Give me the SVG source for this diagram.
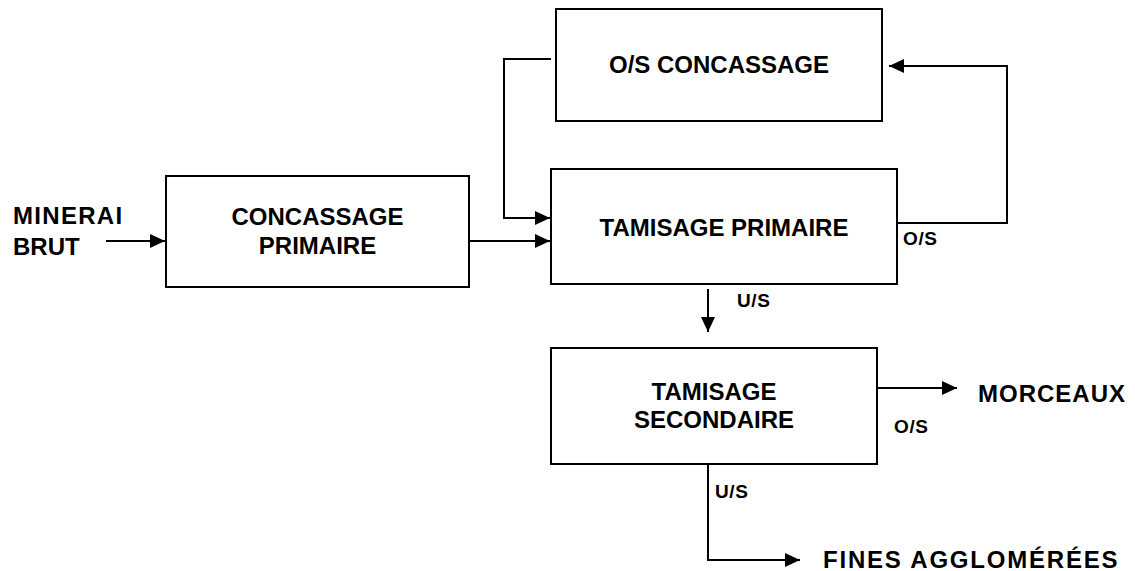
<svg xmlns="http://www.w3.org/2000/svg" width="1135" height="571" viewBox="0 0 1135 571">
<style>
.box{fill:#fff;stroke:#000;stroke-width:2}
.ln{fill:none;stroke:#000;stroke-width:2}
.t{font-family:"Liberation Sans",Arial,sans-serif;font-weight:bold;font-size:24px;fill:#000}
.c{text-anchor:middle}
.s{font-size:19px;letter-spacing:0.6px}
</style>
<defs>
<marker id="ah" markerUnits="userSpaceOnUse" markerWidth="15" markerHeight="14" refX="15" refY="7" orient="auto">
<path d="M0,0 L15,7 L0,14 z" fill="#000"/>
</marker>
</defs>
<rect width="1135" height="571" fill="#fff"/>
<g id="connectors">
<path class="ln" d="M106,241 L165,241" marker-end="url(#ah)"/>
<path class="ln" d="M469,241 L550,241" marker-end="url(#ah)"/>
<path class="ln" d="M551,59 L504,59 L504,218 L550,218" marker-end="url(#ah)"/>
<path class="ln" d="M897,223 L1007,223 L1007,66 L889,66" marker-end="url(#ah)"/>
<path class="ln" d="M708,289 L708,332" marker-end="url(#ah)"/>
<path class="ln" d="M877,388 L957,388" marker-end="url(#ah)"/>
<path class="ln" d="M708,464 L708,560 L800,560" marker-end="url(#ah)"/>
<text class="t s" x="903" y="245">O/S</text>
<text class="t s" x="737" y="307">U/S</text>
<text class="t s" x="894" y="433">O/S</text>
<text class="t s" x="715" y="498">U/S</text>
</g>
<g id="minerai-brut">
<text class="t" x="13" y="224" style="letter-spacing:1.3px">MINERAI</text>
<text class="t" x="13" y="255">BRUT</text>
</g>
<g id="concassage-primaire">
<rect class="box" x="166" y="176" width="303" height="111"/>
<text class="t c" x="317.5" y="225">CONCASSAGE</text>
<text class="t c" x="317.5" y="254">PRIMAIRE</text>
</g>
<g id="os-concassage">
<rect class="box" x="556" y="9" width="326" height="112"/>
<text class="t c" x="719" y="73">O/S CONCASSAGE</text>
</g>
<g id="tamisage-primaire">
<rect class="box" x="551" y="169" width="346" height="115"/>
<text class="t c" x="724" y="236">TAMISAGE PRIMAIRE</text>
</g>
<g id="tamisage-secondaire">
<rect class="box" x="551" y="348" width="326" height="116"/>
<text class="t c" x="714" y="400">TAMISAGE</text>
<text class="t c" x="714" y="428">SECONDAIRE</text>
</g>
<g id="morceaux">
<text class="t" x="978" y="402" style="letter-spacing:1px">MORCEAUX</text>
</g>
<g id="fines-agglomerees">
<text class="t" x="823" y="568" style="letter-spacing:1.8px">FINES AGGLOMÉRÉES</text>
</g>
</svg>
